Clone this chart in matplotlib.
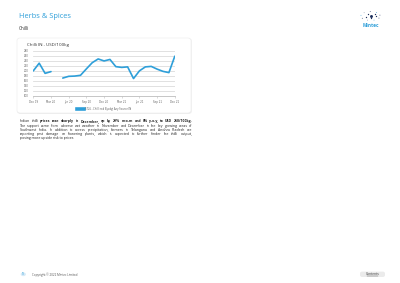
import numpy as np
import matplotlib.pyplot as plt
from matplotlib.patches import FancyBboxPatch, Circle
from matplotlib.lines import Line2D

# monthly prices, Dec 2019 .. Dec 2021 (no reading for Apr 2020)
months = ['Dec 19', 'Jan 20', 'Feb 20', 'Mar 20', 'Apr 20', 'May 20', 'Jun 20',
          'Jul 20', 'Aug 20', 'Sep 20', 'Oct 20', 'Nov 20', 'Dec 20', 'Jan 21',
          'Feb 21', 'Mar 21', 'Apr 21', 'May 21', 'Jun 21', 'Jul 21', 'Aug 21',
          'Sep 21', 'Oct 21', 'Nov 21', 'Dec 21']
prices = [200, 231, 190, 197, np.nan, 171, 178, 179, 182, 208, 233, 248, 240,
          246, 217, 214, 216, 169, 200, 216, 218, 207, 198, 193, 259]
y_ticks = [100, 120, 140, 160, 180, 200, 220, 240, 260, 280]
series_label = 'ST26 - Chilli red Byadgi Any Source IN'

paragraph = [
    [('Indian', 'normal'), ('chilli', 'normal'), ('prices', 'bold'), ('rose', 'bold'),
     ('sharply', 'bold'), ('in', 'bold'), ('December,', 'bold'), ('up', 'bold'),
     ('by', 'bold'), ('29%', 'bold'), ('m-o-m', 'bold'), ('and', 'bold'), ('8%', 'bold'),
     ('y-o-y,', 'bold'), ('to', 'bold'), ('USD', 'bold'), ('250/100kg.', 'bold')],
    'The support came from adverse wet weather in November and December in the key growing areas of',
    'Southwest India. In addition to excess precipitation, farmers in Telangana and Andhra Pradesh are',
    'reporting pest damage on flowering plants, which is expected to further hinder the chilli output,',
    'posing more upside risk to prices.',
]

BLUE = '#2e9fd9'
NAVY = '#1c2f5c'
W, H = 400, 283
plt.rcParams['font.family'] = ['Open Sans', 'DejaVu Sans']

fig = plt.figure(figsize=(4, 2.83), dpi=100)
fig.patch.set_facecolor('white')

def fx(px):
    return px / W

def fy(px):
    return 1 - px / H

# header
fig.text(fx(19), fy(17), 'Herbs & Spices', fontsize=5.4, color=BLUE, va='center', ha='left')
fig.text(fx(19), fy(28.3), 'Chilli', fontsize=3.4, color='#333333', va='center', ha='left')

# logo
logo = fig.add_axes([fx(358), fy(22), fx(25), 12 / H])
logo.set_xlim(-1.3, 1.3)
logo.set_ylim(-1.1, 1.1)
logo.axis('off')
ang = np.linspace(0, 2 * np.pi, 9, endpoint=False) + 0.2
logo.scatter(np.cos(ang) * 1.0, np.sin(ang) * 0.8, s=0.35,
             c=[NAVY, BLUE, NAVY, '#7f8fa8', BLUE, NAVY, '#7f8fa8', BLUE, NAVY], lw=0)
logo.scatter(np.cos(ang[::2] + 0.5) * 0.55, np.sin(ang[::2] + 0.5) * 0.45, s=0.9,
             c=NAVY, lw=0)
logo.scatter([0], [0], s=4.5, c=NAVY, lw=0)
fig.text(fx(370.5), fy(25.7), 'Mintec', fontsize=3.4, color=BLUE, fontweight='bold',
         ha='center', va='center')

# card with shadow
shadow = FancyBboxPatch((fx(17.3), fy(114)), fx(174.4), 75.6 / H,
                        boxstyle='round,pad=0,rounding_size=0.008',
                        transform=fig.transFigure, facecolor='#efefef',
                        edgecolor='none', zorder=-2)
card = FancyBboxPatch((fx(17), fy(113)), fx(174), 75 / H,
                      boxstyle='round,pad=0,rounding_size=0.008',
                      transform=fig.transFigure, facecolor='white',
                      edgecolor='#eaeaea', linewidth=0.4, zorder=-1)
fig.add_artist(shadow)
fig.add_artist(card)
fig.text(fx(26.7), fy(44.8), 'Chilli IN - USD/100kg', fontsize=3.2, color='#333333',
         va='center', ha='left')

# chart
ax = fig.add_axes([fx(33.3), fy(95.7), fx(174.8 - 33.3), (95.7 - 51) / H])
ax.set_facecolor('none')
x = np.arange(len(months))
ax.plot(x, prices, color=BLUE, lw=1.2, solid_capstyle='round', solid_joinstyle='round')
ax.set_xlim(0, len(months) - 1)
ax.set_ylim(y_ticks[0], y_ticks[-1])
ax.set_yticks(y_ticks)
ax.set_xticks(x[::3])
ax.set_xticklabels(months[::3])
ax.grid(axis='y', color='#dcdcdc', lw=0.6)
for s in ['top', 'right', 'left']:
    ax.spines[s].set_visible(False)
ax.spines['bottom'].set_color('#bdbdbd')
ax.spines['bottom'].set_linewidth(0.6)
ax.tick_params(axis='y', length=0, pad=3.5, labelsize=1.9, labelcolor='#666666')
ax.tick_params(axis='x', length=1.2, width=0.4, color='#bdbdbd', pad=2.2,
               labelsize=1.9, labelcolor='#666666')
for lab in ax.get_xticklabels() + ax.get_yticklabels():
    lab.set_family('DejaVu Sans')
handle = Line2D([], [], color=BLUE, lw=2.6)
ax.legend([handle], [series_label], loc='center', bbox_to_anchor=(0.5, -0.3),
          frameon=False, fontsize=1.9, handlelength=2.6, handletextpad=0.5,
          labelcolor='#555555')

# commentary, justified like the report
renderer = fig.canvas.get_renderer()
left, right = 19.5, 192.5
size = 2.55
for i, line in enumerate(paragraph):
    y = fy(121.5 + i * 4.1)
    words = line if isinstance(line, list) else [(w, 'normal') for w in line.split()]
    if i == len(paragraph) - 1:
        fig.text(fx(left), y, line, fontsize=size, color='#222222', va='center')
        continue
    texts = [fig.text(0, y, w, fontsize=size, fontweight=wt, color='#222222', va='center')
             for w, wt in words]
    widths = [t.get_window_extent(renderer).width for t in texts]
    gap = max(((right - left) - sum(widths)) / (len(texts) - 1), 0.5)
    pos = left
    for t, w in zip(texts, widths):
        t.set_x(fx(pos))
        pos += w + gap

# footer
fig.add_artist(Circle((fx(23.3), fy(274.3)), 2.6 / W, transform=fig.transFigure,
                      facecolor='#d6eaf7', edgecolor='none'))
fig.text(fx(23.3), fy(274.3), '18', fontsize=1.8, color=BLUE, ha='center', va='center')
fig.text(fx(31.7), fy(274.3), 'Copyright \u00a9 2022 Mintec Limited', fontsize=2.2,
         color='#555555', ha='left', va='center')
fig.add_artist(FancyBboxPatch((fx(360), fy(277)), fx(25), 5.4 / H,
                              boxstyle='round,pad=0,rounding_size=0.006',
                              transform=fig.transFigure, facecolor='#ebebeb',
                              edgecolor='none'))
fig.text(fx(372.5), fy(274.3), 'Contents', fontsize=2.3, color='#333333',
         ha='center', va='center')
fig.add_artist(Line2D([fx(367), fx(378)], [fy(275.8), fy(275.8)],
                      transform=fig.transFigure, color='#333333', lw=0.25))

fig.savefig('out.png', dpi=100)
